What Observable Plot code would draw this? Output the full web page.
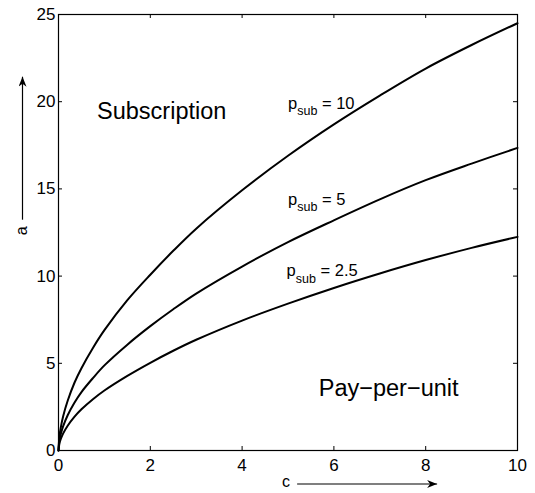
<!DOCTYPE html>
<html>
<head>
<meta charset="utf-8">
<script src="https://cdn.jsdelivr.net/npm/d3@7"></script>
<script src="https://cdn.jsdelivr.net/npm/@observablehq/plot@0.6"></script>
<style>
  html, body { margin: 0; padding: 0; background: #fff; }
</style>
</head>
<body>
<div id="chart"></div>
<script>
// Cost per unit c on the horizontal axis, break-even usage a on the vertical axis
const c = [0, 0.02, 0.05, 0.1, 0.2, 0.35, 0.5, 0.75, 1, 1.5, 2, 2.5, 3, 4, 5, 6, 7, 8, 9, 10];

// One boundary curve per subscription price
const aSub10  = [0, 0.80, 1.32, 1.95, 2.85, 3.90, 4.72, 5.88, 6.90, 8.62, 10.08, 11.45, 12.72, 14.92, 16.90, 18.70, 20.35, 21.90, 23.25, 24.50];
const aSub5   = [0, 0.57, 0.94, 1.38, 2.02, 2.75, 3.35, 4.15, 4.88, 6.07, 7.13, 8.10, 9.00, 10.55, 11.95, 13.20, 14.40, 15.50, 16.45, 17.35];
const aSub2_5 = [0, 0.40, 0.66, 0.97, 1.42, 1.94, 2.36, 2.94, 3.44, 4.28, 5.03, 5.72, 6.35, 7.45, 8.42, 9.32, 10.15, 10.92, 11.62, 12.25];

const prices = ["10", "5", "2.5"];
const seriesValues = [aSub10, aSub5, aSub2_5];

// Curve labels (anchored at the start of the text, on its baseline)
const curveLabelX = [5.0, 5.0, 4.97];
const curveLabelY = [19.6, 14.1, 10.0];

// Region names
const regionNames = ["Subscription", "Pay\u2212per\u2212unit"];
const regionX = [0.84, 5.67];
const regionY = [19.0, 3.1];

const xTicks = [0, 2, 4, 6, 8, 10];
const yTicks = [0, 5, 10, 15, 20, 25];

const rows = prices.flatMap((p, i) => c.map((cv, j) => ({p, c: cv, a: seriesValues[i][j]})));
const curveLabels = prices.map((p, i) => ({text: `p_sub = ${p}`, x: curveLabelX[i], y: curveLabelY[i]}));
const regions = regionNames.map((t, i) => ({text: t, x: regionX[i], y: regionY[i]}));

const font = "'Liberation Sans', Arial, Helvetica, sans-serif";

const W = 535, H = 493;
const M = {left: 58, right: 18, top: 14, bottom: 43};
const frameW = W - M.left - M.right;
const frameH = H - M.top - M.bottom;
const tickLen = 4;

const chart = Plot.plot({
  width: W,
  height: H,
  marginLeft: M.left,
  marginRight: M.right,
  marginTop: M.top,
  marginBottom: M.bottom,
  style: {fontFamily: font, fontSize: "17px", color: "black", background: "white", overflow: "visible"},
  x: {domain: [0, 10], axis: null},
  y: {domain: [0, 25], axis: null},
  marks: [
    // inward tick marks on all four sides
    Plot.tickX(xTicks, {x: d => d, insetTop: frameH - tickLen, stroke: "black"}),
    Plot.tickX(xTicks, {x: d => d, insetBottom: frameH - tickLen, stroke: "black"}),
    Plot.tickY(yTicks, {y: d => d, insetRight: frameW - tickLen, stroke: "black"}),
    Plot.tickY(yTicks, {y: d => d, insetLeft: frameW - tickLen, stroke: "black"}),
    // tick labels
    Plot.axisX(xTicks, {anchor: "bottom", tickSize: 0, tickPadding: 8, fontSize: 17, label: null}),
    Plot.axisY(yTicks, {anchor: "left", tickSize: 0, tickPadding: 3, fontSize: 17, label: null}),
    Plot.line(rows, {x: "c", y: "a", z: "p", stroke: "black", strokeWidth: 2, curve: "catmull-rom"}),
    Plot.text(curveLabels, {x: "x", y: "y", text: "text", textAnchor: "start", lineAnchor: "bottom", fontSize: 16.5, fill: "black"}),
    Plot.text(regions, {x: "x", y: "y", text: "text", textAnchor: "start", lineAnchor: "bottom", fontSize: 23.5, fill: "black"}),
    Plot.frame({stroke: "black", strokeWidth: 1.2})
  ]
});

document.getElementById("chart").appendChild(chart);

const svg = d3.select(chart);

// Render "p_sub = …" with a real subscript
svg.selectAll("text").each(function () {
  const t = d3.select(this);
  const s = this.textContent;
  if (!s.startsWith("p_sub")) return;
  const rest = s.slice(5);
  t.text(null);
  t.append("tspan").text("p");
  t.append("tspan").attr("font-size", 12.5).attr("dy", 6.5).text("sub");
  t.append("tspan").attr("dy", -6.5).text(rest);
});

// Axis names with long arrows, outside the frame
const defs = svg.append("defs");
defs.append("marker")
  .attr("id", "arrowhead")
  .attr("viewBox", "0 0 10 8")
  .attr("refX", 10).attr("refY", 4)
  .attr("markerWidth", 10).attr("markerHeight", 8)
  .attr("markerUnits", "userSpaceOnUse")
  .attr("orient", "auto")
  .append("path").attr("d", "M0,0L10,4L0,8L3,4Z").attr("fill", "black");

const sx = chart.scale("x"), sy = chart.scale("y");
const frameLeft = sx.range[0], frameRight = sx.range[1];
const frameBottom = sy.range[0], frameTop = sy.range[1];

const g = svg.append("g").attr("font-family", font).attr("font-size", 16).attr("fill", "black");

// c →
const cx = frameLeft + (frameRight - frameLeft) * 0.497;
g.append("text").attr("x", cx).attr("y", frameBottom + 37).attr("text-anchor", "middle").text("c");
g.append("line")
  .attr("x1", cx + 11).attr("x2", cx + 151)
  .attr("y1", frameBottom + 34).attr("y2", frameBottom + 34)
  .attr("stroke", "black").attr("stroke-width", 1.2)
  .attr("marker-end", "url(#arrowhead)");

// a ↑
const ay = frameTop + (frameBottom - frameTop) * 0.497;
g.append("text")
  .attr("transform", `translate(27,${ay}) rotate(-90)`)
  .attr("text-anchor", "middle").text("a");
g.append("line")
  .attr("x1", 22.5).attr("x2", 22.5)
  .attr("y1", ay - 11).attr("y2", ay - 154)
  .attr("stroke", "black").attr("stroke-width", 1.2)
  .attr("marker-end", "url(#arrowhead)");
</script>
</body>
</html>
